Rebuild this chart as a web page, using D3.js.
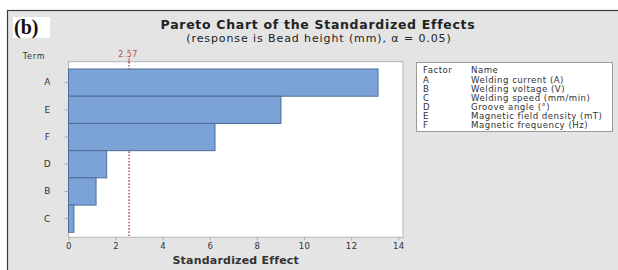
<!DOCTYPE html>
<html>
<head>
<meta charset="utf-8">
<script src="https://cdn.jsdelivr.net/npm/d3@7"></script>
<style>
  body { margin: 0; background: #fff; }
  text { font-family: "DejaVu Sans", "Noto Sans", sans-serif; }
</style>
</head>
<body>
<div id="chart"></div>
<script>
// data
const terms = ["A", "E", "F", "D", "B", "C"];
const effects = [13.14, 9.02, 6.22, 1.62, 1.17, 0.23];
const xTicks = [0, 2, 4, 6, 8, 10, 12, 14];
const critical = 2.57;
const factorCodes = ["A", "B", "C", "D", "E", "F"];
const factorNames = [
    "Welding current (A)",
    "Welding voltage (V)",
    "Welding speed (mm/min)",
    "Groove angle (°)",
    "Magnetic field density (mT)",
    "Magnetic frequency (Hz)"
];

const W = 618, H = 270;
const plot = { left: 68.5, right: 403, top: 61.7, bottom: 237.3 };

const svg = d3.select("#chart").append("svg")
    .attr("width", W)
    .attr("height", H);

// gray frame of the whole figure
svg.append("rect")
    .attr("x", 7.5).attr("y", 10.5)
    .attr("width", 630).attr("height", 280)
    .attr("fill", "#e4e4e4")
    .attr("stroke", "#3a3a3a")
    .attr("stroke-width", 1.2);

// (b) tag
svg.append("rect")
    .attr("x", 13).attr("y", 17)
    .attr("width", 37).attr("height", 21)
    .attr("fill", "#fff");
svg.append("text")
    .attr("x", 14).attr("y", 34)
    .style("font-family", "'Liberation Serif', 'DejaVu Serif', serif")
    .style("font-weight", "bold")
    .style("font-size", "20px")
    .attr("fill", "#111")
    .text("(b)");

// titles
svg.append("text")
    .attr("x", 318).attr("y", 29)
    .attr("text-anchor", "middle")
    .style("font-size", "12.5px")
    .style("letter-spacing", "0.7px")
    .style("font-weight", "bold")
    .attr("fill", "#222")
    .text("Pareto Chart of the Standardized Effects");
svg.append("text")
    .attr("x", 319).attr("y", 41.5)
    .attr("text-anchor", "middle")
    .style("font-size", "11px")
    .style("letter-spacing", "0.9px")
    .attr("fill", "#222")
    .text("(response is Bead height (mm), α = 0.05)");

// plot area
svg.append("rect")
    .attr("x", plot.left).attr("y", plot.top)
    .attr("width", plot.right - plot.left)
    .attr("height", plot.bottom - plot.top)
    .attr("fill", "#fff")
    .attr("stroke", "#b4b4b4");

const x = d3.scaleLinear()
    .domain([0, 14.2])
    .range([plot.left, plot.right]);
const y = d3.scaleBand()
    .domain(terms)
    .range([69, 232.3])
    .padding(0);

// reference line first, bars cover it
svg.append("line")
    .attr("x1", x(critical)).attr("x2", x(critical))
    .attr("y1", 58).attr("y2", plot.top + 2)
    .attr("stroke", "#b5655b")
    .attr("stroke-width", 1);
svg.append("line")
    .attr("x1", x(critical)).attr("x2", x(critical))
    .attr("y1", plot.top).attr("y2", plot.bottom)
    .attr("stroke", "#b5655b")
    .attr("stroke-width", 1.6)
    .attr("stroke-dasharray", "1.6 1.6");
svg.append("text")
    .attr("x", x(critical) - 1).attr("y", 57)
    .attr("text-anchor", "middle")
    .style("font-size", "8px")
    .style("letter-spacing", "0.5px")
    .attr("fill", "#b5514a")
    .text(critical.toFixed(2));

// bars
const rows = terms.map((t, i) => ({ term: t, value: effects[i] }));
svg.selectAll(".bar")
    .data(rows)
    .enter()
    .append("rect")
    .attr("class", "bar")
    .attr("x", x(0))
    .attr("y", d => y(d.term))
    .attr("width", d => x(d.value) - x(0))
    .attr("height", y.bandwidth())
    .attr("fill", "#7ba3d8")
    .attr("stroke", "#4e6d98")
    .attr("stroke-width", 1);

// axes
const xAxis = svg.append("g")
    .attr("transform", `translate(0, ${plot.bottom})`)
    .call(d3.axisBottom(x).tickValues(xTicks).tickSize(3).tickPadding(3));
const yAxis = svg.append("g")
    .attr("transform", `translate(${plot.left}, 0)`)
    .call(d3.axisLeft(y).tickSize(4).tickPadding(14));
[xAxis, yAxis].forEach(g => {
    g.select(".domain").remove();
    g.selectAll("line").attr("stroke", "#aaa");
    g.selectAll("text")
        .style("font-family", "'DejaVu Sans', sans-serif")
        .style("font-size", "8.5px")
        .style("letter-spacing", "0.5px")
        .attr("fill", "#333");
});
yAxis.selectAll("text").attr("text-anchor", "middle").attr("dx", "-3")
    .style("font-size", "9px");

svg.append("text")
    .attr("x", 34).attr("y", 59)
    .attr("text-anchor", "middle")
    .style("font-size", "8px")
    .style("letter-spacing", "0.8px")
    .attr("fill", "#333")
    .text("Term");

svg.append("text")
    .attr("x", (plot.left + plot.right) / 2).attr("y", 264)
    .attr("text-anchor", "middle")
    .style("font-size", "11px")
    .style("letter-spacing", "0.2px")
    .style("font-weight", "bold")
    .attr("fill", "#333")
    .text("Standardized Effect");

// legend box
svg.append("rect")
    .attr("x", 416.5).attr("y", 62.5)
    .attr("width", 196).attr("height", 69)
    .attr("fill", "#fff")
    .attr("stroke", "#9a9a9a");
const legend = svg.append("g")
    .style("font-size", "8.6px")
    .style("letter-spacing", "0.5px")
    .attr("fill", "#333");
legend.append("text").attr("x", 423).attr("y", 73).text("Factor");
legend.append("text").attr("x", 471).attr("y", 73).text("Name");
legend.selectAll(".code")
    .data(factorCodes)
    .enter()
    .append("text")
    .attr("x", 423)
    .attr("y", (d, i) => 82.5 + i * 9.1)
    .text(d => d);
legend.selectAll(".name")
    .data(factorNames)
    .enter()
    .append("text")
    .attr("x", 471)
    .attr("y", (d, i) => 82.5 + i * 9.1)
    .text(d => d);
</script>
</body>
</html>
